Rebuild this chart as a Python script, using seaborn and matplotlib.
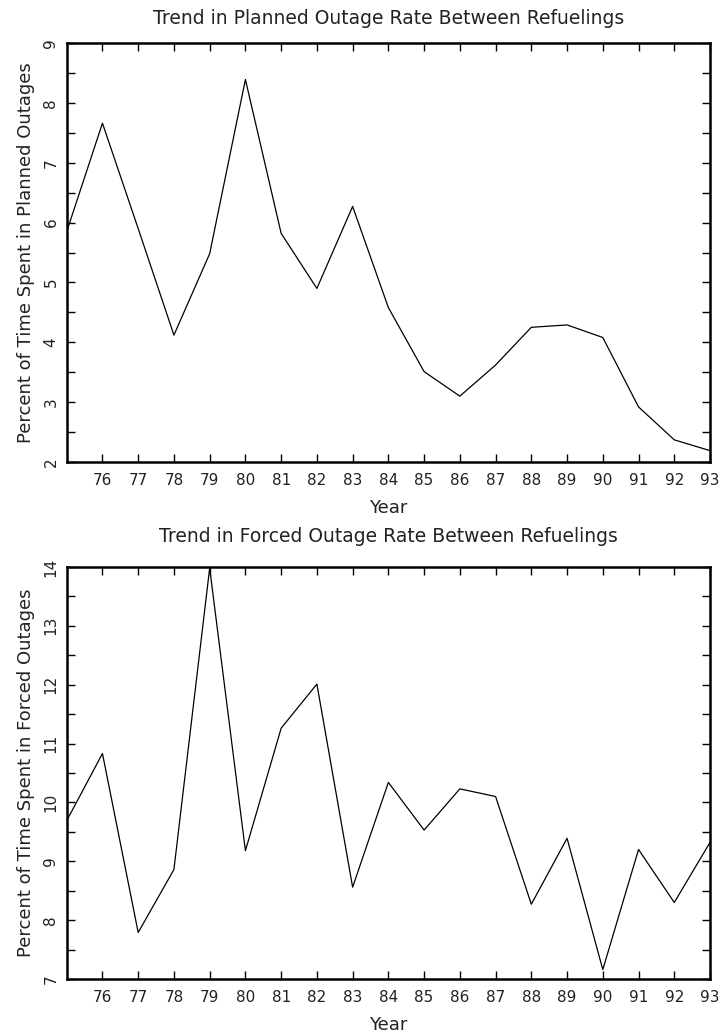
import numpy as np
import pandas as pd
import matplotlib
matplotlib.use("Agg")
import matplotlib.pyplot as plt
import seaborn as sns
from matplotlib.ticker import MultipleLocator

years = [75, 76, 77, 78, 79, 80, 81, 82, 83, 84, 85, 86, 87, 88, 89, 90, 91, 92, 93]
planned = [5.85, 7.66, 5.90, 4.12, 5.48, 8.39, 5.82, 4.90, 6.27, 4.58, 3.51, 3.10, 3.62, 4.25, 4.29, 4.08, 2.92, 2.37, 2.19]
forced = [9.69, 10.83, 7.79, 8.86, 13.98, 9.18, 11.26, 12.01, 8.56, 10.34, 9.53, 10.23, 10.10, 8.27, 9.39, 7.16, 9.20, 8.30, 9.32]
xtick_labels = [str(y) for y in range(76, 94)]

sns.set_style("ticks")
plt.rcParams['font.family'] = ['DejaVu Sans']

fig = plt.figure(figsize=(7.22, 10.34), dpi=100)
ax1 = fig.add_axes([0.0924, 0.5532, 0.891, 0.4052])
ax2 = fig.add_axes([0.0924, 0.0532, 0.891, 0.3985])

panels = [
    (ax1, planned, "Trend in Planned Outage Rate Between Refuelings",
     "Percent of Time Spent in Planned Outages", (2, 9), 14),
    (ax2, forced, "Trend in Forced Outage Rate Between Refuelings",
     "Percent of Time Spent in Forced Outages", (7, 14), 18),
]

for ax, vals, title, ylabel, ylim, tpad in panels:
    df = pd.DataFrame({"Year": years, "Value": vals})
    sns.lineplot(data=df, x="Year", y="Value", ax=ax, color="black", linewidth=0.9)
    ax.set_xlim(75, 93)
    ax.set_ylim(*ylim)
    ax.set_xticks(list(range(76, 94)))
    ax.set_xticklabels(xtick_labels)
    ax.yaxis.set_major_locator(MultipleLocator(1))
    ax.yaxis.set_minor_locator(MultipleLocator(0.5))
    ax.tick_params(axis='both', which='both', direction='in', top=True, right=True,
                   length=6, width=1.0, color='black', labelsize=11, labelcolor='#222222')
    ax.tick_params(axis='x', pad=8)
    ax.tick_params(axis='y', pad=6)
    plt.setp(ax.get_yticklabels(), rotation=90, va='center')
    for s in ax.spines.values():
        s.set_linewidth(1.8)
        s.set_color('black')
    ax.set_title(title, fontsize=13.5, pad=tpad, color='#222222')
    ax.set_xlabel("Year", fontsize=13, labelpad=8, color='#222222')
    ax.set_ylabel(ylabel, fontsize=13, labelpad=6, color='#222222')

fig.savefig("out.png", dpi=100)
